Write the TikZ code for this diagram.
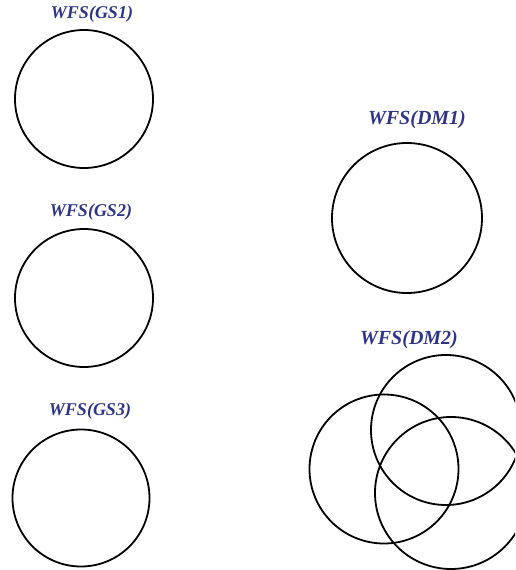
\documentclass[tikz,border=0pt]{standalone}
\usepackage{fontspec}
\setmainfont{Liberation Serif}
\usepackage{tikz}
\usetikzlibrary{positioning}
\definecolor{wfsblue}{HTML}{2E3588}
\tikzset{
  ring/.style={draw, circle, line width=1.8pt, inner sep=0pt},
  wfslabel/.style={text=wfsblue, font=\fontsize{18}{20}\selectfont\bfseries\itshape, inner sep=0pt},
  dmlabel/.style={wfslabel, font=\fontsize{20}{22}\selectfont\bfseries\itshape}
}
\begin{document}
\begin{tikzpicture}[x=1pt, y=-1pt]
  \clip (0,0) rectangle (515,570);
  \useasboundingbox (0,0) rectangle (515,570);

  % guide stars
  \node[ring, minimum size=138pt] (gs1) at (84,99) {};
  \node[ring, minimum size=138pt] (gs2) at (84,298) {};
  \node[ring, minimum size=137pt] (gs3) at (81,498) {};

  % deformable mirrors
  \node[ring, minimum size=150pt] (dm1) at (407,218) {};
  \node[ring, minimum size=149pt] (dm2a) at (384,469) {};
  \node[ring, minimum size=150pt] (dm2b) at (446,430) {};
  \node[ring, minimum size=152pt] (dm2c) at (451,493) {};

  \node[wfslabel, above=7pt of gs1, xshift=8pt] (lgs1) {WFS(GS1)};
  \node[wfslabel, above=8pt of gs2, xshift=7pt] (lgs2) {WFS(GS2)};
  \node[wfslabel, above=9pt of gs3, xshift=9pt] (lgs3) {WFS(GS3)};
  \node[dmlabel, above=13pt of dm1, xshift=10pt] (ldm1) {WFS(DM1)};
  \node[dmlabel, above=5pt of dm2b, xshift=-37pt] (ldm2) {WFS(DM2)};
\end{tikzpicture}
\end{document}
